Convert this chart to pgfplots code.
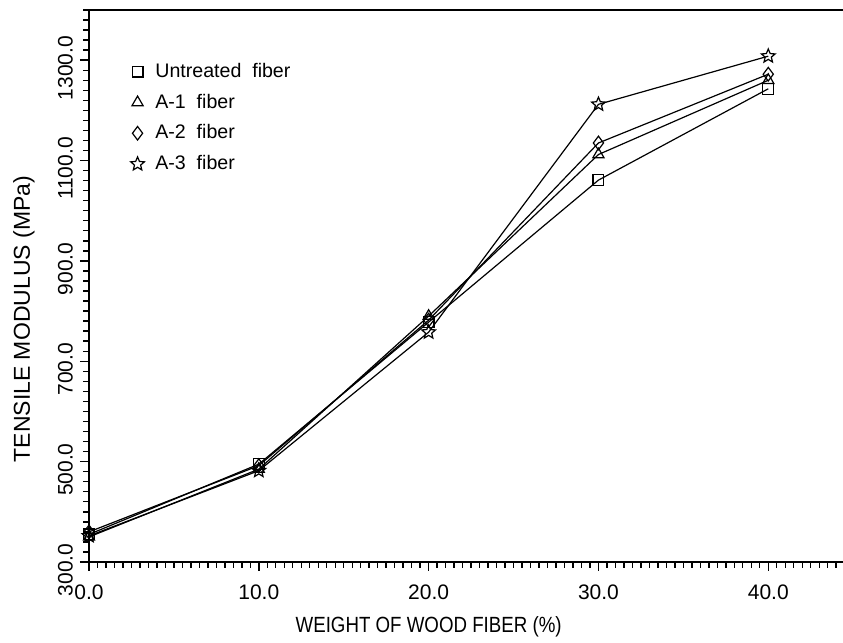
\documentclass[border=0pt]{standalone}
\usepackage{pgfplots}
\pgfplotsset{compat=1.18}
\usepackage{fontspec}
\setmainfont{Liberation Sans}
\usepackage{graphicx}

\pgfdeclareplotmark{ostar}{%
  \pgfpathmoveto{\pgfpointpolar{90}{\pgfplotmarksize}}%
  \pgfpathlineto{\pgfpointpolar{126}{0.45\pgfplotmarksize}}%
  \pgfpathlineto{\pgfpointpolar{162}{\pgfplotmarksize}}%
  \pgfpathlineto{\pgfpointpolar{198}{0.45\pgfplotmarksize}}%
  \pgfpathlineto{\pgfpointpolar{234}{\pgfplotmarksize}}%
  \pgfpathlineto{\pgfpointpolar{270}{0.45\pgfplotmarksize}}%
  \pgfpathlineto{\pgfpointpolar{306}{\pgfplotmarksize}}%
  \pgfpathlineto{\pgfpointpolar{342}{0.45\pgfplotmarksize}}%
  \pgfpathlineto{\pgfpointpolar{18}{\pgfplotmarksize}}%
  \pgfpathlineto{\pgfpointpolar{54}{0.45\pgfplotmarksize}}%
  \pgfpathclose
  \pgfusepathqstroke}

\begin{document}
\begin{tikzpicture}
\path[use as bounding box] (-44.5pt,-40.5pt) rectangle (377pt,281pt);
\begin{axis}[
  at={(0,0)}, anchor=south west,
  scale only axis, width=377pt, height=276pt,
  xmin=0, xmax=44.4, ymin=300, ymax=1400,
  axis lines*=left,
  axis line style={line width=0.9pt},
  xtick={0,10,20,30,40},
  minor xtick={0,0.5,...,44.1},
  ytick={300,500,...,1300},
  minor ytick={300,320,...,1400},
  tick align=outside,
  major tick length=4.5pt, minor tick length=2.8pt,
  every tick/.style={black, line width=0.7pt},
  scaled ticks=false,
  /pgf/number format/fixed,
  /pgf/number format/fixed zerofill,
  /pgf/number format/precision=1,
  /pgf/number format/1000 sep={},
  /pgf/number format/assume math mode=true,
  xticklabel style={font=\fontsize{10.5}{12}\selectfont, yshift=-3.5pt},
  yticklabel style={font=\fontsize{10.5}{12}\selectfont, rotate=90, anchor=south, xshift=-4pt},
  every axis x label/.style={at={(axis cs:20,300)}, yshift=-32.5pt, anchor=center},
  every axis y label/.style={at={(rel axis cs:0,0.44)}, xshift=-32.5pt, rotate=90, anchor=center},
  xlabel={\scalebox{0.85}[1]{\fontsize{11}{13}\selectfont WEIGHT OF WOOD FIBER (\%)}},
  ylabel={\fontsize{11.5}{13}\selectfont TENSILE MODULUS (MPa)},
  legend style={at={(axis cs:2.0,1311)}, anchor=north west, draw=none, fill=none,
    font=\fontsize{9.8}{12}\selectfont, row sep=2.8pt},
  legend cell align=left,
  legend image code/.code={\draw[#1] plot coordinates {(0pt,0pt)}; \path (-3.8pt,0pt) (6.6pt,0pt);},
  after end axis/.code={\draw[line width=0.9pt] (rel axis cs:0,1) -- (rel axis cs:1,1);},
]
\addlegendimage{only marks, mark=square, mark size=2.7pt, line width=0.6pt}
\addlegendentry{Untreated\ \ fiber}
\addlegendimage{only marks, mark=triangle, mark size=3.2pt, line width=0.6pt}
\addlegendentry{A-1\ \ fiber}
\addlegendimage{only marks, mark=diamond, mark size=3.4pt, line width=0.6pt}
\addlegendentry{A-2\ \ fiber}
\addlegendimage{only marks, mark=ostar, mark size=3.6pt, line width=0.6pt}
\addlegendentry{A-3\ \ fiber}

\addplot[black, line width=0.6pt, mark=square, mark size=2.7pt, forget plot]
  coordinates {(0,355) (10,495) (20,778) (30,1061) (40,1243)};
\addplot[black, line width=0.6pt, mark=triangle, mark size=3.2pt, forget plot]
  coordinates {(0,350) (10,485) (20,790) (30,1112) (40,1260)};
\addplot[black, line width=0.6pt, mark=diamond, mark size=3.4pt, forget plot]
  coordinates {(0,360) (10,492) (20,782) (30,1135) (40,1272)};
\addplot[black, line width=0.6pt, mark=ostar, mark size=3.6pt, forget plot]
  coordinates {(0,352) (10,482) (20,758) (30,1212) (40,1308)};
\end{axis}
\end{tikzpicture}
\end{document}
